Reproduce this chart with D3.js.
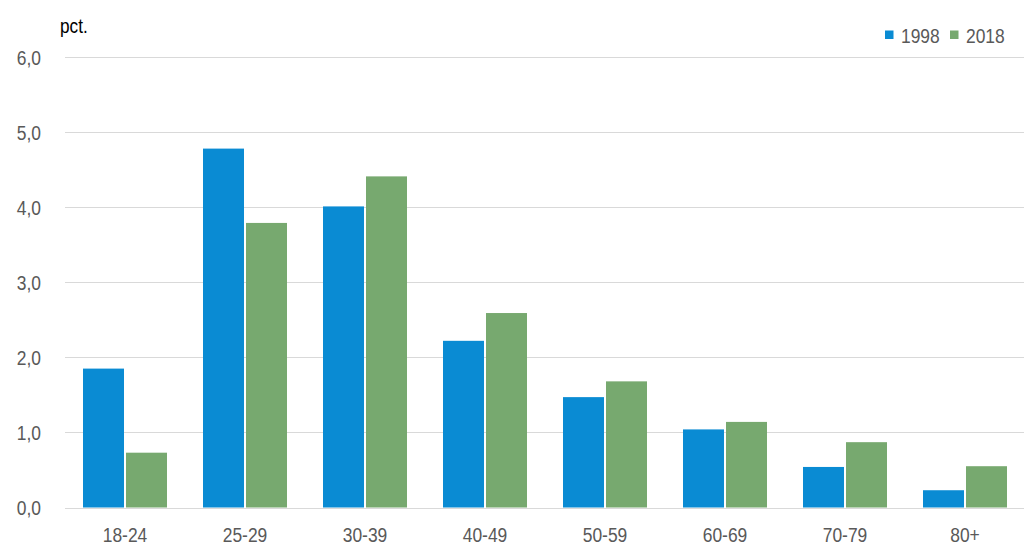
<!DOCTYPE html>
<html>
<head>
<meta charset="utf-8">
<script src="https://cdn.jsdelivr.net/npm/d3@7"></script>
<style>
  body { margin: 0; background: #fff; }
  svg text { font-family: "Liberation Sans Narrow", "Arial Narrow", "Liberation Sans", Arial, sans-serif; }
</style>
</head>
<body>
<svg id="chart" width="1024" height="551"></svg>
<script>
var categories = ["18-24", "25-29", "30-39", "40-49", "50-59", "60-69", "70-79", "80+"]
var series = ["1998", "2018"]
var values1998 = [1.85, 4.78, 4.01, 2.22, 1.47, 1.04, 0.54, 0.23]
var values2018 = [0.73, 3.79, 4.41, 2.59, 1.68, 1.14, 0.87, 0.55]
var yTicks = [0, 1, 2, 3, 4, 5, 6]
var colors = ["#0a8bd3", "#77a96f"]

var svg = d3.select("#chart")
var plotLeft = 65, plotRight = 1025, plotTop = 57, plotBottom = 507.5
var squeeze = 0.83  // narrow font look

var x0 = d3.scaleBand().domain(categories).range([plotLeft, plotRight]).paddingInner(0.3).paddingOuter(0.15)
var x1 = d3.scaleBand().domain(series).range([0, x0.bandwidth()])
var y = d3.scaleLinear().domain([0, 6]).range([plotBottom, plotTop])

// grid
svg.append("g").selectAll("line").data(yTicks).join("line")
    .attr("x1", plotLeft).attr("x2", 1024)
    .attr("y1", d => Math.round(y(d)) + 0.5).attr("y2", d => Math.round(y(d)) + 0.5)
    .style("stroke", "#d9d9d9").style("stroke-width", 1.2)

// y labels
svg.append("g").selectAll("text").data(yTicks).join("text")
    .attr("transform", d => "translate(41," + y(d) + ") scale(" + squeeze + ",1)")
    .attr("dy", "0.36em")
    .attr("text-anchor", "end")
    .style("font-size", "21px").style("fill", "#595959")
    .text(d => d3.format(".1f")(d).replace(".", ","))

svg.append("text")
    .attr("transform", "translate(60,33) scale(0.86,1)")
    .style("font-size", "20px").style("fill", "#000")
    .text("pct.")

// bars
var rows = categories.map((c, i) => ({cat: c, vals: [values1998[i], values2018[i]]}))
var groups = svg.append("g").selectAll("g").data(rows).join("g")
    .attr("transform", d => "translate(" + x0(d.cat) + ",0)")
groups.selectAll("rect").data(d => d.vals.map((v, j) => ({s: series[j], v: v, j: j}))).join("rect")
    .attr("x", d => x1(d.s) + (d.j == 1 ? 1 : 0))
    .attr("width", x1.bandwidth() - 1)
    .attr("y", d => y(d.v))
    .attr("height", d => y(0) - y(d.v))
    .style("fill", d => colors[d.j])

// x labels
svg.append("g").selectAll("text").data(categories).join("text")
    .attr("transform", d => "translate(" + (x0(d) + x0.bandwidth() / 2) + ",534) scale(" + squeeze + ",1)")
    .attr("dy", "0.36em")
    .attr("text-anchor", "middle")
    .style("font-size", "21px").style("fill", "#595959")
    .text(d => d)

// legend
var legend = svg.append("g").selectAll("g").data(series).join("g")
    .attr("transform", (d, i) => "translate(" + (885 + i * 65) + ",0)")
legend.append("rect").attr("x", 0).attr("y", 30.5).attr("width", 8.5).attr("height", 8.5)
    .style("fill", (d, i) => colors[i])
legend.append("text")
    .attr("transform", "translate(16,35) scale(" + squeeze + ",1)")
    .attr("dy", "0.36em")
    .style("font-size", "21px").style("fill", "#595959")
    .text(d => d)
</script>
</body>
</html>
